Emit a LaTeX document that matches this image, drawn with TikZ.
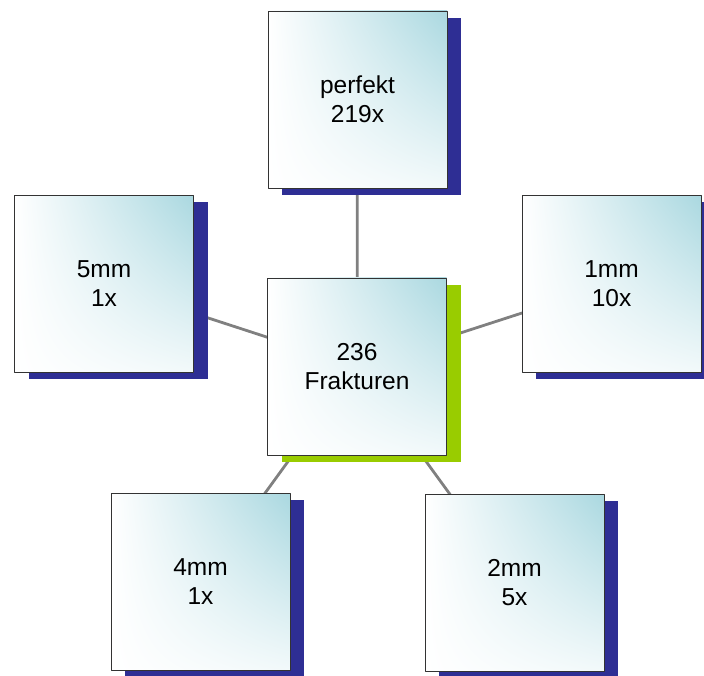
\documentclass[tikz,border=0pt]{standalone}
\usepackage{fontspec}
\setmainfont{Liberation Sans}
\usetikzlibrary{shadings,shadows,backgrounds}
\definecolor{shdblue}{RGB}{46,46,148}
\definecolor{shdgreen}{RGB}{153,204,0}
\definecolor{boxteal}{RGB}{170,216,224}
\definecolor{linkgray}{RGB}{128,128,128}
\begin{document}
\begin{tikzpicture}[x=1pt,y=1pt,line join=round,
  card/.style={draw=black!80,line width=0.9pt,shade,
    upper left=white,lower left=white,upper right=boxteal,lower right=boxteal!15,
    minimum width=179pt,minimum height=177pt,inner sep=0pt,align=center,
    font=\fontsize{24.5}{29}\selectfont,
    drop shadow={shadow xshift=14pt,shadow yshift=-7pt,fill=shdblue,opacity=1}},
  hub/.style={card,drop shadow={shadow xshift=14pt,shadow yshift=-7pt,fill=shdgreen,opacity=1}},
  link/.style={draw=linkgray,line width=2.8pt}]
  \useasboundingbox (0,0) rectangle (704,675);
  \node[hub]  (fr)  at (357,308.5)   {236\\Frakturen};
  \node[card] (p0)  at (357.5,575.5) {perfekt\\219x};
  \node[card] (m5)  at (104,391)     {5mm\\1x};
  \node[card] (m1)  at (611.5,391)   {1mm\\10x};
  \node[card] (m4)  at (200.5,93)    {4mm\\1x};
  \node[card] (m2)  at (514.5,92)    {2mm\\5x};
  \begin{pgfonlayer}{background}
    \draw[link] (fr.center) -- (p0.center);
    \draw[link] (fr.center) -- (m5.center);
    \draw[link] (fr.center) -- (m1.center);
    \draw[link] (fr.center) -- (m4.center);
    \draw[link] (fr.center) -- (m2.center);
  \end{pgfonlayer}
\end{tikzpicture}
\end{document}
